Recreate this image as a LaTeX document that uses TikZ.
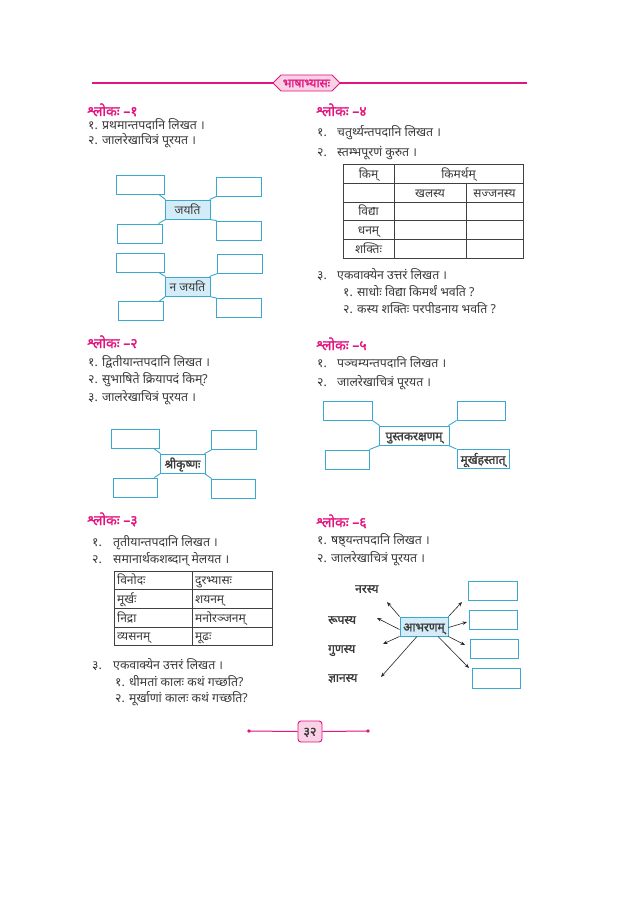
\documentclass[tikz,border=0pt]{standalone}
\usepackage{fontspec}
\usetikzlibrary{arrows.meta}
\newfontfamily\dev[Script=Devanagari]{Noto Sans}
\newfontfamily\devb[Script=Devanagari, FakeBold=1.6]{Noto Sans}
\definecolor{mag}{HTML}{E3137F}
\definecolor{pinkfill}{HTML}{FAD2E6}
\definecolor{boxblue}{HTML}{3AA8CF}
\definecolor{cfill}{HTML}{D3ECF8}
\definecolor{tgray}{HTML}{3A3A3A}
\tikzset{
  txt/.style={anchor=west, inner sep=0pt, text=tgray, text height=9.5pt, text depth=0pt,
    font=\dev\fontsize{12.3}{14}\selectfont},
  head/.style={anchor=west, inner sep=0pt, text=mag, text height=10pt, text depth=0pt,
    font=\devb\fontsize{14}{16}\selectfont},
  ebox/.style={draw=boxblue, line width=0.9pt, fill=white, inner sep=0pt,
    minimum width=#1, minimum height=19pt},
  ebox/.default=45pt,
  cbox/.style={draw=boxblue, line width=0.9pt, fill=cfill, inner sep=0pt,
    minimum width=#1, minimum height=19pt, text=tgray, text height=9.5pt, text depth=0pt,
    font=\dev\fontsize{12}{14}\selectfont},
  cbox/.default=45pt,
  wbox/.style={cbox=#1, fill=white, font=\devb\fontsize{12}{14}\selectfont},
  link/.style={draw=boxblue, line width=0.9pt},
  arr/.style={draw=black!85, line width=0.6pt, -{Stealth[length=4.5pt,width=3.5pt]}},
  cell/.style={inner sep=0pt, text=tgray, text height=9.5pt, text depth=0pt,
    font=\dev\fontsize{12}{14}\selectfont},
  grid/.style={draw=black!75, line width=0.7pt},
  lbl/.style={txt, font=\devb\fontsize{12}{14}\selectfont},
}
\begin{document}
\begin{tikzpicture}[x=1pt,y=-1pt]
\useasboundingbox (0,0) rectangle (638,904);
\fill[white] (0,0) rectangle (638,904);

% ---------- header ----------
\draw[draw=mag, fill=pinkfill, line width=0.9pt]
  (273,83) -- (281,75) -- (332,75) -- (340,83) -- (332,91) -- (281,91) -- cycle;
\node[inner sep=0pt, text=mag, font=\devb\fontsize{12}{14}\selectfont, text height=8.5pt, text depth=0pt] (ban) at (306.5,83) {भाषाभ्यासः};
\coordinate (hl) at (92,83);
\coordinate (hr) at (527,83);
\coordinate (bl) at (273,83);
\coordinate (br) at (340,83);
\draw[mag, line width=1.2pt] (hl) -- (bl);
\draw[mag, line width=1.2pt] (br) -- (hr);

% ---------- shloka 1 ----------
\node[head] (h1) at (87,111) {श्लोकः –१};
\node[txt] (h1a) at (88,125) {१. प्रथमान्तपदानि लिखत ।};
\node[txt] (h1b) at (88,140) {२. जालरेखाचित्रं पूरयत ।};

\node[cbox] (m1) at (187.5,209.5) {जयति};
\node[ebox=48pt] (m1a) at (140,185) {};
\node[ebox] (m1b) at (238.5,186.5) {};
\node[ebox] (m1c) at (139.5,233.5) {};
\node[ebox] (m1d) at (238.5,230.5) {};
\draw[link] ([xshift=-5pt]m1a.south east) -- ([xshift=1pt]m1.north west);
\draw[link] ([xshift=1pt]m1b.south west) -- ([xshift=-1pt]m1.north east);
\draw[link] ([xshift=-4pt]m1c.north east) -- ([xshift=1pt]m1.south west);
\draw[link] ([xshift=1pt]m1d.north west) -- ([xshift=-1pt]m1.south east);

\node[cbox] (m2) at (187.5,286.5) {न जयति};
\node[ebox=48pt] (m2a) at (140,263) {};
\node[ebox] (m2b) at (239.5,263.5) {};
\node[ebox] (m2c) at (140.5,311) {};
\node[ebox] (m2d) at (238.5,308) {};
\draw[link] ([xshift=-5pt]m2a.south east) -- ([xshift=1pt]m2.north west);
\draw[link] ([xshift=1pt]m2b.south west) -- ([xshift=-1pt]m2.north east);
\draw[link] ([xshift=-4pt]m2c.north east) -- ([xshift=1pt]m2.south west);
\draw[link] ([xshift=1pt]m2d.north west) -- ([xshift=-1pt]m2.south east);

% ---------- shloka 2 ----------
\node[head] (h2) at (87,343) {श्लोकः –२};
\node[txt] (h2a) at (88,362) {१. द्वितीयान्तपदानि लिखत ।};
\node[txt] (h2b) at (88,379) {२. सुभाषिते क्रियापदं किम्?};
\node[txt] (h2c) at (88,397) {३. जालरेखाचित्रं पूरयत ।};

\node[wbox] (m3) at (182.5,463.5) {श्रीकृष्णः};
\node[ebox=48pt] (m3a) at (135,439) {};
\node[ebox] (m3b) at (233.5,440) {};
\node[ebox=44pt] (m3c) at (135,487.5) {};
\node[ebox=44pt] (m3d) at (233,488.5) {};
\draw[link] ([xshift=-5pt]m3a.south east) -- ([xshift=1pt]m3.north west);
\draw[link] ([xshift=1pt]m3b.south west) -- ([xshift=-1pt]m3.north east);
\draw[link] ([xshift=-3pt]m3c.north east) -- ([xshift=1pt]m3.south west);
\draw[link] ([xshift=1pt]m3d.north west) -- ([xshift=-1pt]m3.south east);

% ---------- shloka 3 ----------
\node[head] (h3) at (87,520) {श्लोकः –३};
\node[txt] (h3n1) at (92,542) {१.};
\node[txt] (h3a) at (113,542) {तृतीयान्तपदानि लिखत ।};
\node[txt] (h3n2) at (92,559) {२.};
\node[txt] (h3b) at (113,559) {समानार्थकशब्दान् मेलयत ।};
\draw[grid] (114,571) rectangle (272,645);
\draw[grid] (114,589.5) -- (272,589.5);
\draw[grid] (114,608) -- (272,608);
\draw[grid] (114,627) -- (272,627);
\draw[grid] (192,571) -- (192,645);
\node[cell, anchor=west] (t2a1) at (117,580) {विनोदः};
\node[cell, anchor=west] (t2b1) at (195,580) {दुरभ्यासः};
\node[cell, anchor=west] (t2a2) at (117,599) {मूर्खः};
\node[cell, anchor=west] (t2b2) at (195,599) {शयनम्};
\node[cell, anchor=west] (t2a3) at (117,617.5) {निद्रा};
\node[cell, anchor=west] (t2b3) at (195,617.5) {मनोरञ्जनम्};
\node[cell, anchor=west] (t2a4) at (117,636) {व्यसनम्};
\node[cell, anchor=west] (t2b4) at (195,636) {मूढः};
\node[txt] (h3n3) at (92,665) {३.};
\node[txt] (h3c) at (113,665) {एकवाक्येन उत्तरं लिखत ।};
\node[txt] (h3d) at (115,682) {१. धीमतां कालः कथं गच्छति?};
\node[txt] (h3e) at (115,698) {२. मूर्खाणां कालः कथं गच्छति?};

% ---------- shloka 4 ----------
\node[head] (h4) at (316,111) {श्लोकः –४};
\node[txt] (h4n1) at (317,132) {१.};
\node[txt] (h4a) at (337,132) {चतुर्थ्यन्तपदानि लिखत ।};
\node[txt] (h4n2) at (317,152) {२.};
\node[txt] (h4b) at (337,152) {स्तम्भपूरणं कुरुत ।};
\draw[grid] (343,164) rectangle (523,258);
\draw[grid] (343,183) -- (523,183);
\draw[grid] (343,202) -- (523,202);
\draw[grid] (343,220) -- (523,220);
\draw[grid] (343,239) -- (523,239);
\draw[grid] (394,164) -- (394,258);
\draw[grid] (466,183) -- (466,258);
\node[cell] (t1a) at (368.5,173.5) {किम्};
\node[cell] (t1b) at (458.5,173.5) {किमर्थम्};
\node[cell] (t1c) at (430,192.5) {खलस्य};
\node[cell] (t1d) at (494.5,192.5) {सज्जनस्य};
\node[cell] (t1e) at (368.5,211) {विद्या};
\node[cell] (t1f) at (368.5,229.5) {धनम्};
\node[cell] (t1g) at (368.5,248.5) {शक्तिः};
\node[txt] (h4n3) at (317,275) {३.};
\node[txt] (h4c) at (337,275) {एकवाक्येन उत्तरं लिखत ।};
\node[txt] (h4d) at (343,292) {१. साधोः विद्या किमर्थं भवति ?};
\node[txt] (h4e) at (343,309) {२. कस्य शक्तिः परपीडनाय भवति ?};

% ---------- shloka 5 ----------
\node[head] (h5) at (316,345) {श्लोकः –५};
\node[txt] (h5n1) at (317,363) {१.};
\node[txt] (h5a) at (337,363) {पञ्चम्यन्तपदानि लिखत ।};
\node[txt] (h5n2) at (317,382) {२.};
\node[txt] (h5b) at (337,382) {जालरेखाचित्रं पूरयत ।};

\node[wbox=70pt] (m5) at (414,435.5) {पुस्तकरक्षणम्};
\node[ebox=49pt] (m5a) at (347.5,410.5) {};
\node[ebox=48pt] (m5b) at (481,410.5) {};
\node[ebox=44pt] (m5c) at (347,459.5) {};
\node[wbox=52pt] (m5d) at (483,459) {मूर्खहस्तात्};
\draw[link] (m5a.south east) -- ([xshift=1pt]m5.north west);
\draw[link] (m5b.south west) -- ([xshift=-1pt]m5.north east);
\draw[link] (m5c.north east) -- ([xshift=1pt]m5.south west);
\draw[link] (m5d.north west) -- ([xshift=-1pt]m5.south east);

% ---------- shloka 6 ----------
\node[head] (h6) at (316,522) {श्लोकः –६};
\node[txt] (h6a) at (317,540) {१. षष्ठ्यन्तपदानि लिखत ।};
\node[txt] (h6b) at (317,558) {२. जालरेखाचित्रं पूरयत ।};

\node[cbox=48pt, font=\devb\fontsize{12}{14}\selectfont] (m6) at (424,626.5) {आभरणम्};
\node[ebox=49pt] (r1) at (492.5,590.5) {};
\node[ebox=48pt] (r2) at (493,619.5) {};
\node[ebox=48pt] (r3) at (494,648.5) {};
\node[ebox=48pt, minimum height=20pt] (r4) at (496,678) {};
\node[lbl] (l1) at (355,588) {नरस्य};
\node[lbl] (l2) at (328,619) {रूपस्य};
\node[lbl] (l3) at (328,648) {गुणस्य};
\node[lbl] (l4) at (328,677) {ज्ञानस्य};
\coordinate (p1) at (387,602);
\coordinate (p2) at (377,618);
\coordinate (p3) at (383,644);
\coordinate (p4) at (381,677);
\coordinate (q1) at (462,602);
\coordinate (q2) at (467,622);
\coordinate (q3) at (465,645);
\coordinate (q4) at (469,668);
\draw[arr] (m6.north west) -- (p1);
\draw[arr] ([yshift=-3pt]m6.west) -- (p2);
\draw[arr] (m6.south west) -- (p3);
\draw[arr] ([xshift=-7pt]m6.south) -- (p4);
\draw[arr] (m6.north east) -- (q1);
\draw[arr] ([yshift=-1pt]m6.east) -- (q2);
\draw[arr] (m6.south east) -- (q3);
\draw[arr] ([xshift=14pt]m6.south) -- (q4);

% ---------- footer ----------
\coordinate (fl) at (249,731);
\coordinate (fr) at (368,731);
\node[draw=mag, fill=pinkfill, rounded corners=3pt, line width=0.9pt, minimum width=24pt, minimum height=21pt, inner sep=0pt, text=tgray, text height=8.5pt, text depth=0pt, font=\devb\fontsize{12.5}{14}\selectfont] (pg) at (310,731.5) {३२};
\draw[mag, line width=1pt] (fl) -- (pg.west);
\draw[mag, line width=1pt] (pg.east) -- (fr);
\fill[mag] (fl) circle (1.8pt);
\fill[mag] (fr) circle (1.8pt);
\end{tikzpicture}
\end{document}
